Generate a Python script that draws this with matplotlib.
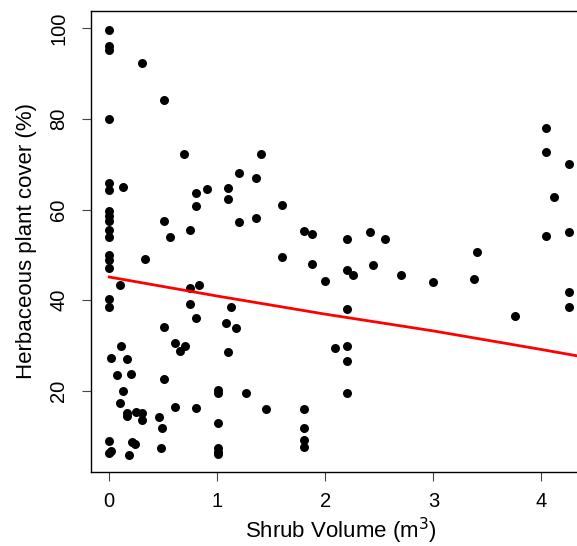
import matplotlib
matplotlib.use("Agg")
import matplotlib.pyplot as plt

plt.rcParams['font.family'] = ['Liberation Sans', 'DejaVu Sans']

# Shrub volume (m3) and herbaceous cover (%)
shrub_volume = [
    0.0, 0.0, 0.0, 0.0, 0.0, 0.0, 0.0, 0.0, 0.0, 0.0,
    0.0, 0.0, 0.0, 0.0, 0.0, 0.0, 0.013, 0.0, 0.0, 0.02,
    0.30, 0.506, 0.69, 1.20, 0.13, 0.80, 0.90, 1.096, 1.096, 0.80,
    0.506, 1.20, 0.75, 0.56, 0.33, 0.10, 0.75, 0.83, 0.75, 0.80,
    1.127, 1.078, 1.17, 0.506, 0.61, 0.70, 0.65, 1.096, 0.105, 0.16,
    0.068, 0.198, 0.506, 0.124, 1.003, 1.003, 1.263, 0.096, 0.165, 0.165,
    0.244, 0.30, 0.30, 0.608, 0.80, 0.46, 0.485, 1.003, 0.207, 0.238,
    0.18, 0.476, 1.003, 1.003, 1.003,
    1.40, 1.355, 1.60, 1.355, 1.80, 1.874, 2.20, 2.414, 2.55, 1.596,
    1.874, 2.0, 2.20, 2.256, 2.44, 2.70, 2.20, 2.09, 2.20, 2.20,
    2.20, 1.45, 1.80, 1.80, 1.80, 1.80,
    4.04, 4.04, 4.256, 4.12, 4.04, 4.256, 3.40, 3.377, 3.00, 4.256,
    4.256, 3.757,
]
plant_cover = [
    99.7, 95.3, 96.2, 80.1, 65.8, 64.3, 59.7, 58.6, 57.5, 55.5,
    54.0, 50.0, 48.9, 47.2, 40.2, 38.4, 27.2, 9.0, 6.2, 6.6,
    92.3, 84.2, 72.3, 68.1, 65.0, 63.7, 64.5, 64.7, 62.3, 60.8,
    57.4, 57.2, 55.5, 54.0, 49.1, 43.3, 42.7, 43.3, 39.1, 36.0,
    38.4, 34.9, 33.8, 34.0, 30.6, 29.9, 28.8, 28.6, 29.9, 27.1,
    23.5, 23.7, 22.6, 19.9, 20.1, 19.6, 19.4, 17.2, 15.0, 14.4,
    15.4, 15.0, 13.5, 16.5, 16.1, 14.3, 11.8, 12.8, 8.7, 8.2,
    5.7, 7.4, 7.3, 6.5, 6.0,
    72.3, 66.9, 61.0, 58.2, 55.3, 54.7, 53.6, 55.0, 53.6, 49.6,
    47.9, 44.3, 46.7, 45.5, 47.7, 45.5, 38.0, 29.4, 29.9, 26.6,
    19.6, 16.0, 16.0, 11.8, 9.1, 7.6,
    78.1, 72.7, 70.0, 62.8, 54.2, 55.0, 50.6, 44.7, 44.0, 41.8,
    38.5, 36.4,
]

# Fitted trend line, read at a few x positions
fit_x = [0, 1, 2, 3, 4, 4.45]
fit_y = [45.1, 40.9, 36.9, 33.2, 29.1, 27.2]

x_ticks = [0, 1, 2, 3, 4]
y_ticks = [20, 40, 60, 80, 100]

fig = plt.figure(figsize=(5.77, 5.46), dpi=100)
ax = fig.add_axes([0.1577, 0.1355, 0.8648, 0.8449])

ax.scatter(shrub_volume, plant_cover, s=42, color='black', linewidths=0, zorder=3)
ax.plot(fit_x, fit_y, color='red', linewidth=2, zorder=4)

ax.set_xlim(-0.1694, 4.45)
ax.set_ylim(2.05, 103.9)
ax.set_xticks(x_ticks)
ax.set_yticks(y_ticks)
ax.set_yticklabels([str(t) for t in y_ticks], rotation=90, va='center')

ax.tick_params(axis='both', direction='out', length=6.5, width=0.8,
               color='#444444', labelsize=14.5)
ax.tick_params(axis='x', pad=8)
ax.tick_params(axis='y', pad=10)
for side in ax.spines.values():
    side.set_linewidth(1.0)

ax.set_xlabel("Shrub Volume (m$^3$)", fontsize=16, labelpad=3)
ax.set_ylabel("Herbaceous plant cover (%)", fontsize=16, labelpad=9)

plt.savefig("out.png", dpi=100)
